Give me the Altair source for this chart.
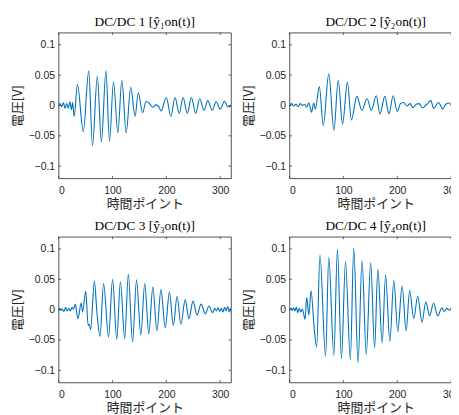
import altair as alt
import pandas as pd

# ---- data (extrema of each trace) ----
x1 = [0, 3, 6, 9, 12, 15, 18, 21, 24, 26, 29, 35, 46, 56, 63, 72, 79.5, 88, 94.5, 102, 110, 117.5,
      125.5, 134, 142, 148, 156, 162.5, 168, 175, 181, 186, 190, 200, 208.5, 216, 224, 231, 239,
      246.5, 254.5, 262, 270, 277, 285, 292.5, 300, 308, 314, 320]
y1 = [0.000, 0.003, -0.002, 0.005, -0.005, 0.003, -0.004, 0.006, -0.007, 0.005, -0.018, 0.035,
      -0.043, 0.057, -0.066, 0.048, -0.060, 0.057, -0.059, 0.039, -0.045, 0.041, -0.045, 0.030,
      -0.018, 0.021, -0.012, 0.007, 0.004, -0.003, 0.001, -0.002, -0.009, 0.013, -0.018, 0.013,
      -0.013, 0.013, -0.013, 0.013, -0.013, 0.011, -0.008, 0.008, -0.008, 0.006, -0.006, 0.007,
      -0.002, -0.001]

x2 = [0, 4, 8, 12, 16, 20, 24, 28, 32, 36, 41, 45, 48, 55.5, 62.7, 73, 82.5, 90.5, 98.5, 107.5,
      115, 125, 134.5, 144, 152, 161, 168, 177, 184.5, 192.5, 200, 206, 212, 218, 224, 229, 235,
      240.5, 247, 255, 262.5, 267.5, 276.5, 284.5, 290, 296.5, 302, 308, 315, 320]
y2 = [0.000, 0.003, -0.001, 0.002, -0.002, 0.003, 0.000, 0.002, -0.003, 0.004, -0.011, 0.004,
      -0.006, 0.031, -0.033, 0.052, -0.041, 0.042, -0.031, 0.038, -0.024, 0.015, -0.008, 0.011,
      -0.008, 0.016, -0.014, 0.015, -0.014, 0.016, -0.010, 0.003, 0.005, -0.001, 0.003, -0.004,
      0.002, 0.003, -0.004, 0.002, 0.008, -0.005, 0.005, -0.006, 0.002, 0.004, -0.001, 0.002,
      -0.002, 0.000]

x3 = [0, 2.5, 5, 7, 10, 13, 16, 19, 22, 25, 28, 31, 36, 42, 44.5, 50.5, 55, 57, 59.5, 66.5, 71.5,
      77, 83.5, 92.8, 100.3, 108, 114.8, 122.8, 129.5, 137.4, 144.7, 152.7, 160, 167.5, 175,
      182.5, 190, 198, 205.8, 213, 220, 227, 235, 242, 249.5, 257, 264.5, 272.5, 279, 286, 290,
      293, 296, 299, 302, 305, 308, 311, 314, 317, 320]
y3 = [-0.002, 0.002, -0.001, 0.001, -0.003, 0.004, -0.002, 0.002, -0.002, 0.004, 0.001, 0.009,
      -0.015, 0.011, -0.004, 0.030, -0.026, -0.024, -0.033, 0.047, -0.008, -0.044, 0.043, -0.045,
      0.050, -0.049, 0.046, -0.048, 0.058, -0.053, 0.049, -0.042, 0.043, -0.040, 0.037, -0.035,
      0.033, -0.030, 0.029, -0.026, 0.022, -0.024, 0.016, -0.015, 0.014, -0.009, 0.009, -0.007,
      0.006, -0.005, 0.002, -0.002, 0.003, -0.003, 0.002, -0.004, 0.004, -0.002, 0.005, -0.004,
      0.003]

x4 = [0, 3, 5, 8, 10, 13, 15, 18, 21, 24, 29, 32, 36, 40, 46, 50.5, 56.6, 67, 73, 82.4, 89, 96.5,
      104, 113, 119.3, 127.3, 134.7, 142.5, 150.7, 158, 164, 172, 178.4, 186.3, 193.7, 201, 209,
      216.6, 223, 230.6, 238, 246, 253, 260, 267.5, 275, 283, 287, 292, 297, 301, 305, 310, 315,
      320]
y4 = [0.000, 0.002, -0.001, 0.003, -0.002, 0.004, -0.005, 0.002, -0.004, 0.001, -0.016, 0.020,
      -0.009, 0.031, -0.032, -0.062, 0.090, -0.077, 0.086, -0.076, 0.100, -0.081, 0.079, -0.083,
      0.102, -0.088, 0.081, -0.074, 0.077, -0.063, 0.067, -0.055, 0.057, -0.052, 0.048, -0.036,
      0.039, -0.035, 0.032, -0.015, 0.022, -0.021, 0.013, -0.010, 0.011, -0.010, 0.003, -0.003,
      0.002, -0.001, 0.003, -0.002, 0.002, -0.001, 0.001]

titles = ["DC/DC 1 [ŷ₁on(t)]", "DC/DC 2 [ŷ₂on(t)]", "DC/DC 3 [ŷ₃on(t)]", "DC/DC 4 [ŷ₄on(t)]"]
x_ticks = [0, 100, 200, 300]
y_ticks = [-0.1, -0.05, 0, 0.05, 0.1]
x_domain = [0, 320]
y_domain = [-0.12, 0.12]

W, H = 174, 147
LINE = "#0072BD"
AX = "#262626"
TL = 2.5

xsc = alt.Scale(domain=x_domain, nice=False, zero=False)
ysc = alt.Scale(domain=y_domain, nice=False, zero=False)
xt = pd.DataFrame({"x": x_ticks})
yt = pd.DataFrame({"y": y_ticks})


def X():
    return alt.X("x:Q", scale=xsc, title="時間ポイント",
                 axis=alt.Axis(values=x_ticks, format="d", labelPadding=7, titlePadding=2))


def Y():
    return alt.Y("y:Q", scale=ysc, title="電圧[V]",
                 axis=alt.Axis(values=y_ticks, format=".2~f", labelPadding=4, titlePadding=4))


def panel(xs, ys, title):
    df = pd.DataFrame({"x": xs, "y": ys})
    line = alt.Chart(df).mark_line(color=LINE, strokeWidth=1.1, interpolate="monotone", clip=True).encode(
        x=X(), y=Y())
    yl = alt.Chart(yt).mark_rule(color=AX, strokeWidth=0.7).encode(
        y=Y(), x=alt.value(0), x2=alt.value(TL))
    yr = alt.Chart(yt).mark_rule(color=AX, strokeWidth=0.7).encode(
        y=Y(), x=alt.value(W), x2=alt.value(W - TL))
    xb = alt.Chart(xt).mark_rule(color=AX, strokeWidth=0.7).encode(
        x=X(), y=alt.value(H), y2=alt.value(H - TL))
    xtp = alt.Chart(xt).mark_rule(color=AX, strokeWidth=0.7).encode(
        x=X(), y=alt.value(0), y2=alt.value(TL))
    return alt.layer(line, yl, yr, xb, xtp).properties(
        width=W, height=H,
        title=alt.TitleParams(title, font="Liberation Serif", fontSize=13.5, fontWeight="normal",
                              color="#000000", offset=4),
    )


p1 = panel(x1, y1, titles[0])
p2 = panel(x2, y2, titles[1])
p3 = panel(x3, y3, titles[2])
p4 = panel(x4, y4, titles[3])

chart = alt.vconcat(
    alt.hconcat(p1, p2, spacing=10),
    alt.hconcat(p3, p4, spacing=10),
    spacing=7,
).properties(
    padding={"left": 3, "top": 4, "right": -12, "bottom": 0}, background="white"
).configure_view(
    stroke=AX, strokeWidth=0.8
).configure_axis(
    grid=False, domain=False, ticks=False,
    labelFont="Liberation Sans", labelFontSize=10.5, labelColor=AX,
    titleFont="Noto Sans CJK JP", titleFontSize=13, titleFontWeight="normal", titleColor=AX,
)

chart.save("out.html", embed_options={"renderer": "svg", "actions": False})
